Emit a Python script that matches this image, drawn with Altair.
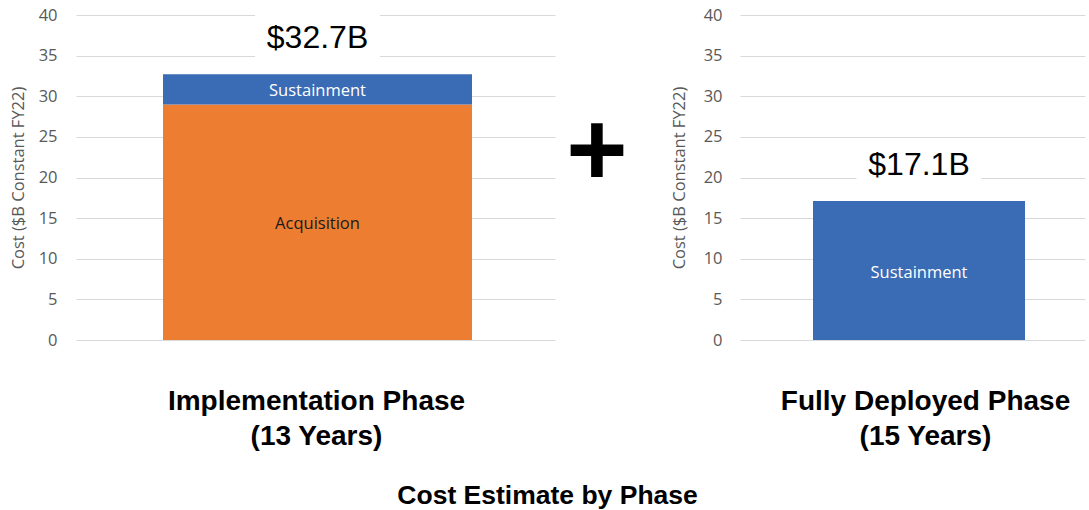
import altair as alt
import pandas as pd

# ---- data ----
impl_components = ["Acquisition", "Sustainment"]
impl_values = [29.0, 3.7]
full_components = ["Sustainment"]
full_values = [17.1]
phase_names = ["Implementation", "Fully Deployed"]
totals = [32.7, 17.1]
total_labels = ["$32.7B", "$17.1B"]
phase_titles = [["Implementation Phase", "(13 Years)"], ["Fully Deployed Phase", "(15 Years)"]]
y_ticks = [0, 5, 10, 15, 20, 25, 30, 35, 40]

ORANGE = "#ED7D31"
BLUE = "#3A6BB5"
GRID = "#D9D9D9"
GRAY = "#595959"


def make_panel(phase, comps, vals, total, tlabel, title_lines, width, bar_size,
               xoff, label_pad, title_pad, title_x, plus=False):
    df = pd.DataFrame({"phase": [phase] * len(comps), "component": comps, "value": vals})
    tdf = pd.DataFrame({"phase": [phase], "value": [total], "label": [tlabel]})

    def X():
        return alt.X("phase:N", axis=alt.Axis(
            labels=False, ticks=False, domain=False, title=title_lines,
            titleFont="Liberation Sans", titleFontSize=28, titleFontWeight="bold",
            titleColor="black", titlePadding=47, titleLineHeight=35, titleX=title_x))

    def Y(field):
        return alt.Y(field, type="quantitative", stack=None,
                     scale=alt.Scale(domain=[0, 40], nice=False, zero=True),
                     axis=alt.Axis(values=y_ticks, title="Cost ($B Constant FY22)",
                                   grid=True, gridColor=GRID, gridWidth=1,
                                   domain=False, ticks=False, tickSize=0,
                                   labelFont="Open Sans", labelFontSize=16.5, labelColor=GRAY,
                                   labelPadding=label_pad,
                                   titleFont="Open Sans", titleFontSize=16.5,
                                   titleFontWeight="normal", titleColor=GRAY,
                                   titlePadding=title_pad))

    stacked = alt.Chart(df).transform_stack(
        stack="value", groupby=["phase"], as_=["v0", "v1"],
        sort=[alt.SortField("component", order="ascending")]
    ).transform_calculate(mid="(datum.v0 + datum.v1) / 2")

    bars = stacked.mark_bar(size=bar_size, xOffset=xoff).encode(
        x=X(),
        y=Y("v1"),
        y2="v0:Q",
        color=alt.Color("component:N",
                        scale=alt.Scale(domain=["Acquisition", "Sustainment"],
                                        range=[ORANGE, BLUE]),
                        legend=None),
    )
    seg_text = stacked.mark_text(font="Open Sans", fontSize=16.5, xOffset=xoff, dy=2,
                                 baseline="middle", align="center").encode(
        x=X(),
        y=Y("mid"),
        text="component:N",
        color=alt.condition(alt.datum.component == "Acquisition",
                            alt.value("#1a1a1a"), alt.value("white")),
    )
    box = alt.Chart(tdf).mark_tick(color="white", opacity=1, thickness=50, size=125,
                                   yOffset=-36, xOffset=xoff).encode(x=X(), y=Y("value"))
    ttext = alt.Chart(tdf).mark_text(font="Liberation Sans", fontSize=32, color="black",
                                     dy=-36, xOffset=xoff, baseline="middle",
                                     align="center").encode(
        x=X(), y=Y("value"), text="label:N")
    layers = [bars, box, ttext, seg_text]
    if plus:
        pdf = pd.DataFrame({"t": ["+"]})
        plus_mark = alt.Chart(pdf).mark_text(font="Liberation Sans", fontSize=105,
                                             fontWeight="bold", color="black",
                                             baseline="middle", align="center").encode(
            x=alt.value(width + 42), y=alt.value(138), text="t:N")
        layers.append(plus_mark)
    return alt.layer(*layers).properties(width=width, height=325)


left = make_panel(phase_names[0], impl_components, impl_values, totals[0], total_labels[0],
                  phase_titles[0], 479, 309, 2, 19, 12, 240, plus=True)
right = make_panel(phase_names[1], full_components, full_values, totals[1], total_labels[1],
                   phase_titles[1], 345, 212, 6.5, 18, 16, 185)

chart = alt.hconcat(left, right, spacing=185, bounds="flush").properties(
    title=alt.TitleParams("Cost Estimate by Phase", orient="bottom", anchor="middle",
                          fontSize=26.5, font="Liberation Sans", fontWeight="bold",
                          color="black", offset=33),
    padding={"left": 10, "top": 7, "right": 4, "bottom": 4},
).configure_view(stroke=None)

chart.save("out.html", embed_options={"renderer": "svg", "actions": False})
